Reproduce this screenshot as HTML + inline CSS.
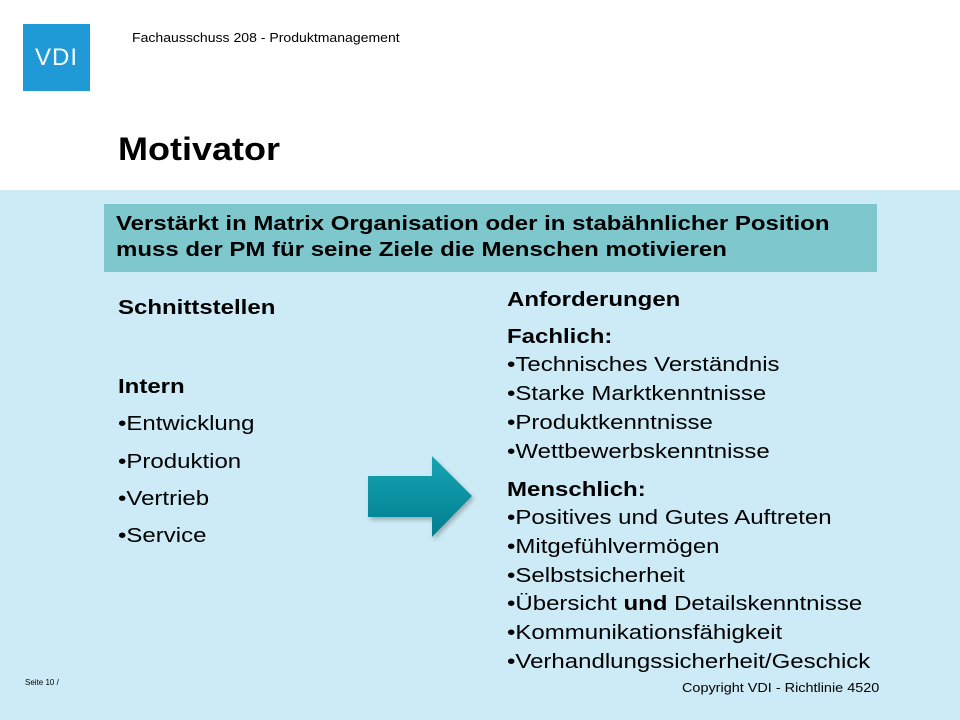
<!DOCTYPE html>
<html><head><meta charset="utf-8"><style>
body{margin:0;width:960px;height:720px;position:relative;overflow:hidden;background:#fff;font-family:"Liberation Sans",Arial,sans-serif;}
.a{position:absolute;white-space:nowrap;color:#000;}
.t{font-size:20px;line-height:22px;transform:scaleX(1.2);transform-origin:0 0;}
.b{font-weight:bold;}
</style></head><body>
<div class="a" style="left:23px;top:24px;width:67px;height:67px;background:#1f9ad6;color:#fff;font-size:24px;line-height:67px;text-align:center;letter-spacing:1px;">VDI</div>
<div class="a" style="left:132px;top:30px;font-size:13px;transform:scaleX(1.08);transform-origin:0 0;">Fachausschuss 208 - Produktmanagement</div>
<div class="a b" style="left:118px;top:131px;font-size:32px;transform:scaleX(1.125);transform-origin:0 0;">Motivator</div>
<div class="a" style="left:0;top:190px;width:960px;height:530px;background:#cdebf6;"></div>
<div class="a" style="left:104px;top:204px;height:68px;width:773px;background:#7ec7cd;"></div>
<div class="a b" style="left:116px;top:211px;font-size:20px;line-height:26px;transform:scaleX(1.2);transform-origin:0 0;">Verstärkt in Matrix Organisation oder in stabähnlicher Position<br>muss der PM für seine Ziele die Menschen motivieren</div>
<div class="a t b" style="left:118px;top:297px;">Schnittstellen</div>
<div class="a t b" style="left:118px;top:376px;">Intern</div>
<div class="a t" style="left:118px;top:413px;">•Entwicklung</div>
<div class="a t" style="left:118px;top:451px;">•Produktion</div>
<div class="a t" style="left:118px;top:488px;">•Vertrieb</div>
<div class="a t" style="left:118px;top:525px;">•Service</div>
<svg class="a" style="left:360px;top:450px;" width="130" height="100">
<defs><linearGradient id="g" x1="0" y1="0" x2="0" y2="1"><stop offset="0" stop-color="#17a4b4"/><stop offset="1" stop-color="#007e8e"/></linearGradient></defs>
<polygon points="8,26 72,26 72,6 112,46 72,87 72,67 8,67" fill="url(#g)" style="filter:drop-shadow(2px 3px 2px rgba(0,0,0,0.25))"/>
</svg>
<div class="a t b" style="left:507px;top:289px;">Anforderungen</div>
<div class="a t b" style="left:507px;top:326px;">Fachlich:</div>
<div class="a t" style="left:507px;top:354px;">•Technisches Verständnis</div>
<div class="a t" style="left:507px;top:383px;">•Starke Marktkenntnisse</div>
<div class="a t" style="left:507px;top:412px;">•Produktkenntnisse</div>
<div class="a t" style="left:507px;top:441px;">•Wettbewerbskenntnisse</div>
<div class="a t b" style="left:507px;top:479px;">Menschlich:</div>
<div class="a t" style="left:507px;top:507px;">•Positives und Gutes Auftreten</div>
<div class="a t" style="left:507px;top:536px;">•Mitgefühlvermögen</div>
<div class="a t" style="left:507px;top:565px;">•Selbstsicherheit</div>
<div class="a t" style="left:507px;top:593px;">•Übersicht <b>und</b> Detailskenntnisse</div>
<div class="a t" style="left:507px;top:622px;">•Kommunikationsfähigkeit</div>
<div class="a t" style="left:507px;top:651px;">•Verhandlungssicherheit/Geschick</div>
<div class="a" style="left:25px;top:678px;font-size:8px;">Seite 10 /</div>
<div class="a" style="left:682px;top:680px;font-size:13px;transform:scaleX(1.11);transform-origin:0 0;">Copyright VDI - Richtlinie 4520</div>
</body></html>
